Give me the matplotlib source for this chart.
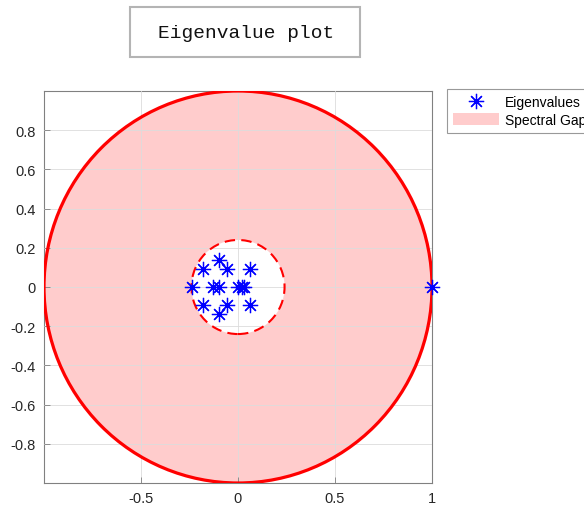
import numpy as np
import matplotlib
matplotlib.use("Agg")
import matplotlib.pyplot as plt
from matplotlib.patches import Circle, Rectangle, Patch
from matplotlib.lines import Line2D

# Data
eig_re = [-0.237, -0.178, -0.178, -0.096, -0.096, -0.058, -0.058, -0.130, -0.096,
          0.002, 0.019, 0.031, 0.062, 0.062, 1.0]
eig_im = [0.0, 0.092, -0.092, 0.138, -0.138, 0.092, -0.092, 0.0, 0.0,
          0.0, 0.0, 0.0, 0.092, -0.092, 0.0]
outer_radius = 1.0
inner_radius = 0.24
xticks = [-0.5, 0, 0.5, 1]
xticklabels = ["-0.5", "0", "0.5", "1"]
yticks = [-0.8, -0.6, -0.4, -0.2, 0, 0.2, 0.4, 0.6, 0.8]
yticklabels = ["-0.8", "-0.6", "-0.4", "-0.2", "0", "0.2", "0.4", "0.6", "0.8"]
title_text = "Eigenvalue plot"

plt.rcParams['font.family'] = ['Liberation Sans', 'DejaVu Sans']

W, H = 584, 510
fig = plt.figure(figsize=(W / 100, H / 100), dpi=100)
ax = fig.add_axes([44 / W, (H - 484) / H, 388 / W, 392 / H])

pink = '#ffcccc'
ax.add_patch(Circle((0, 0), outer_radius, facecolor=pink, edgecolor='none', zorder=0.5))
ax.add_patch(Circle((0, 0), inner_radius, facecolor='white', edgecolor='none', zorder=0.6))
ax.add_patch(Circle((0, 0), outer_radius, facecolor='none', edgecolor='#ff0000', lw=2.3, zorder=3))
ax.add_patch(Circle((0, 0), inner_radius, facecolor='none', edgecolor='#ff0000', lw=1.5,
                    linestyle=(0, (5, 3)), zorder=3))

ax.plot(eig_re, eig_im, linestyle='none', marker=(8, 2, 0), markersize=11,
        markeredgewidth=0.9, color='#0000ff', zorder=4, clip_on=False)

ax.set_xlim(-1, 1)
ax.set_ylim(-1, 1)
ax.set_xticks(xticks)
ax.set_xticklabels(xticklabels)
ax.set_yticks(yticks)
ax.set_yticklabels(yticklabels)
ax.set_axisbelow(False)
ax.grid(True, color='#dcdcdc', lw=0.6)
ax.tick_params(direction='in', length=4, width=0.6, colors='#808080',
               labelcolor='#262626', labelsize=10.5, pad=6)
for s in ax.spines.values():
    s.set_color('#808080')
    s.set_linewidth(0.8)

# Title box
fig.patches.append(Rectangle((130 / W, 1 - 58 / H), 230 / W, 50 / H, transform=fig.transFigure,
                             facecolor='white', edgecolor='#b4b4b4', lw=1.5))
fig.text(246 / W, 1 - 33 / H, title_text, ha='center', va='center',
         fontsize=14, family=['Liberation Mono', 'DejaVu Sans Mono'], color='#111111')

handles = [Line2D([], [], linestyle='none', marker=(8, 2, 0), markersize=11,
                  markeredgewidth=0.9, color='#0000ff'),
           Patch(facecolor=pink, edgecolor='none')]
leg = fig.legend(handles, ['Eigenvalues', 'Spectral Gap'], loc='upper left',
                 bbox_to_anchor=(447 / W, 1 - 90 / H), bbox_transform=fig.transFigure,
                 borderaxespad=0, fontsize=10, frameon=True, fancybox=False,
                 handlelength=3.3, handleheight=1.0, handletextpad=0.45,
                 labelspacing=0.25, borderpad=0.45)
leg.get_frame().set_edgecolor('#808080')
leg.get_frame().set_linewidth(0.8)

fig.savefig('out.png', dpi=100)
